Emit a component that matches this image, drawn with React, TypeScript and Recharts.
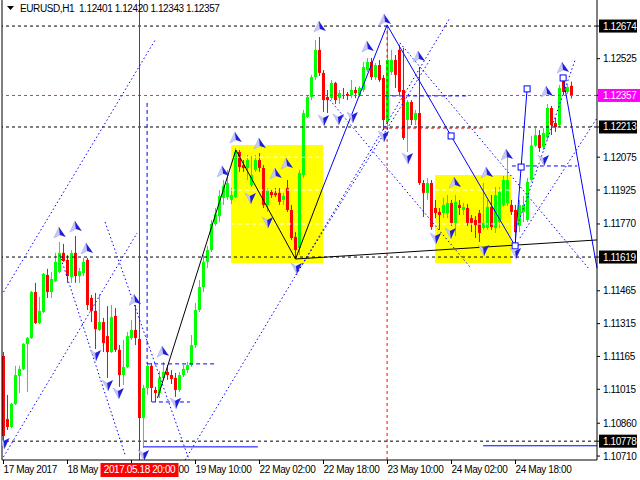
import React from 'react';
import {
  ComposedChart, Bar, Scatter, XAxis, YAxis, ReferenceLine, ReferenceArea,
} from 'recharts';

// EURUSD H1, 17 May 2017 10:00 .. 25 May 2017 08:00 (one bar per hour)
const opens = [
  1.11167, 1.10879, 1.10843, 1.10948, 1.11076, 1.11108, 1.11222, 1.11249, 1.11459, 1.11318,
  1.11368, 1.11537, 1.11459, 1.11510, 1.11551, 1.11638, 1.11606, 1.11528, 1.11638, 1.11532,
  1.11546, 1.11606, 1.11432, 1.11373, 1.11286, 1.11322, 1.11258, 1.11185, 1.11350, 1.11195,
  1.11080, 1.11117, 1.11249, 1.11286, 1.11245, 1.10884, 1.11021, 1.11122, 1.11012, 1.10998,
  1.11067, 1.11094, 1.11080, 1.11067, 1.11012, 1.11080, 1.11103, 1.11126, 1.11217, 1.11377,
  1.11482, 1.11597, 1.11651, 1.11770, 1.11806, 1.11889, 1.11893, 1.11880, 1.11893, 1.12099,
  1.12039, 1.12026, 1.11948, 1.12017, 1.12062, 1.12026, 1.11857, 1.11916, 1.11912, 1.11912,
  1.11880, 1.11934, 1.11834, 1.11711, 1.11660, 1.11994, 1.12259, 1.12350, 1.12441, 1.12565,
  1.12460, 1.12350, 1.12345, 1.12414, 1.12345, 1.12359, 1.12364, 1.12359, 1.12382, 1.12359,
  1.12382, 1.12473, 1.12510, 1.12441, 1.12496, 1.12437, 1.12236, 1.12464, 1.12519, 1.12565,
  1.12382, 1.12245, 1.12327, 1.12245, 1.12277, 1.11957, 1.11912, 1.11957, 1.11843, 1.11825,
  1.11820, 1.11820, 1.11866, 1.11775, 1.11857, 1.11834, 1.11843, 1.11797, 1.11788, 1.11820,
  1.11752, 1.11752, 1.11848, 1.11752, 1.11779, 1.11857, 1.11866, 1.11857, 1.11834, 1.11761,
  1.11825, 1.11788, 1.11971, 1.12128, 1.12176, 1.12122, 1.12167, 1.12300, 1.12231, 1.12222,
  1.12428, 1.12373, 1.12401,
];
const highs = [
  1.11185, 1.10989, 1.10953, 1.11122, 1.11122, 1.11226, 1.11254, 1.11464, 1.11501, 1.11437,
  1.11546, 1.11565, 1.11551, 1.11638, 1.11688, 1.11679, 1.11628, 1.11651, 1.11715, 1.11569,
  1.11615, 1.11615, 1.11446, 1.11455, 1.11450, 1.11341, 1.11395, 1.11400, 1.11386, 1.11217,
  1.11240, 1.11277, 1.11332, 1.11400, 1.11332, 1.11035, 1.11140, 1.11135, 1.11026, 1.11099,
  1.11140, 1.11126, 1.11103, 1.11090, 1.11094, 1.11126, 1.11140, 1.11263, 1.11409, 1.11514,
  1.11628, 1.11670, 1.11788, 1.11843, 1.11925, 1.11971, 1.12017, 1.11934, 1.12117, 1.12108,
  1.12062, 1.12085, 1.12081, 1.12085, 1.12094, 1.12039, 1.11934, 1.11925, 1.11934, 1.11934,
  1.11912, 1.11971, 1.11857, 1.11733, 1.12017, 1.12291, 1.12359, 1.12451, 1.12610, 1.12624,
  1.12473, 1.12382, 1.12428, 1.12419, 1.12382, 1.12391, 1.12373, 1.12428, 1.12396, 1.12400,
  1.12510, 1.12528, 1.12528, 1.12505, 1.12519, 1.12451, 1.12679, 1.12565, 1.12542, 1.12588,
  1.12574, 1.12336, 1.12336, 1.12291, 1.12487, 1.11971, 1.11980, 1.11971, 1.11880, 1.11843,
  1.11889, 1.11902, 1.11880, 1.11902, 1.11880, 1.11866, 1.11861, 1.11811, 1.11806, 1.11834,
  1.11957, 1.11880, 1.11902, 1.11939, 1.11939, 1.11989, 1.12081, 1.11880, 1.11857, 1.11880,
  1.11898, 1.11980, 1.12172, 1.12208, 1.12199, 1.12208, 1.12318, 1.12309, 1.12254, 1.12405,
  1.12441, 1.12409, 1.12420,
];
const lows = [
  1.10774, 1.10829, 1.10838, 1.10943, 1.10998, 1.11103, 1.11003, 1.11245, 1.11313, 1.11313,
  1.11364, 1.11432, 1.11432, 1.11505, 1.11546, 1.11597, 1.11501, 1.11501, 1.11501, 1.11501,
  1.11532, 1.11377, 1.11322, 1.11199, 1.11281, 1.11185, 1.11067, 1.11181, 1.11185, 1.11026,
  1.11035, 1.11112, 1.11240, 1.11217, 1.10875, 1.10747, 1.10989, 1.10957, 1.10957, 1.10975,
  1.11058, 1.11058, 1.11039, 1.10980, 1.11003, 1.11071, 1.11090, 1.11117, 1.11204, 1.11368,
  1.11459, 1.11569, 1.11642, 1.11761, 1.11779, 1.11857, 1.11880, 1.11861, 1.11889, 1.12008,
  1.12008, 1.11971, 1.11939, 1.12008, 1.12008, 1.11843, 1.11825, 1.11889, 1.11893, 1.11857,
  1.11857, 1.11825, 1.11697, 1.11615, 1.11628, 1.11980, 1.12254, 1.12336, 1.12428, 1.12446,
  1.12282, 1.12277, 1.12336, 1.12318, 1.12318, 1.12341, 1.12336, 1.12345, 1.12345, 1.12350,
  1.12373, 1.12464, 1.12428, 1.12428, 1.12419, 1.12199, 1.12199, 1.12451, 1.12391, 1.12359,
  1.12154, 1.12099, 1.12222, 1.12222, 1.11948, 1.11802, 1.11880, 1.11743, 1.11797, 1.11743,
  1.11797, 1.11797, 1.11761, 1.11715, 1.11811, 1.11811, 1.11761, 1.11733, 1.11706, 1.11688,
  1.11743, 1.11743, 1.11743, 1.11729, 1.11752, 1.11848, 1.11852, 1.11811, 1.11670, 1.11733,
  1.11779, 1.11779, 1.11962, 1.12122, 1.12099, 1.12108, 1.12154, 1.12176, 1.12190, 1.12213,
  1.12359, 1.12364, 1.12343,
];
const closes = [
  1.10802, 1.10843, 1.10948, 1.11080, 1.11108, 1.11222, 1.11249, 1.11459, 1.11318, 1.11373,
  1.11542, 1.11459, 1.11519, 1.11597, 1.11638, 1.11601, 1.11532, 1.11638, 1.11532, 1.11555,
  1.11597, 1.11400, 1.11373, 1.11290, 1.11322, 1.11226, 1.11185, 1.11345, 1.11195, 1.11080,
  1.11117, 1.11258, 1.11286, 1.11249, 1.10884, 1.11021, 1.11122, 1.11021, 1.10998, 1.11067,
  1.11094, 1.11080, 1.11062, 1.11012, 1.11080, 1.11108, 1.11126, 1.11217, 1.11377, 1.11482,
  1.11597, 1.11651, 1.11770, 1.11815, 1.11898, 1.11944, 1.11957, 1.11902, 1.12099, 1.12030,
  1.12026, 1.12062, 1.11994, 1.12062, 1.12026, 1.11857, 1.11925, 1.11902, 1.11902, 1.11871,
  1.11898, 1.11834, 1.11706, 1.11651, 1.12003, 1.12277, 1.12350, 1.12441, 1.12565, 1.12460,
  1.12336, 1.12336, 1.12414, 1.12336, 1.12368, 1.12355, 1.12355, 1.12382, 1.12368, 1.12391,
  1.12487, 1.12510, 1.12441, 1.12496, 1.12428, 1.12245, 1.12519, 1.12519, 1.12451, 1.12373,
  1.12163, 1.12327, 1.12245, 1.12277, 1.11957, 1.11912, 1.11957, 1.11756, 1.11820, 1.11811,
  1.11857, 1.11866, 1.11775, 1.11871, 1.11843, 1.11848, 1.11775, 1.11775, 1.11765, 1.11729,
  1.11775, 1.11848, 1.11756, 1.11902, 1.11916, 1.11971, 1.11971, 1.11825, 1.11733, 1.11857,
  1.11857, 1.11962, 1.12128, 1.12176, 1.12117, 1.12186, 1.12300, 1.12222, 1.12213, 1.12391,
  1.12373, 1.12396, 1.12357,
];

const timeTickIdx = [0, 16, 32, 48, 64, 80, 96, 112, 128];
// the part of each label left visible next to the red cursor label
const timeTickLabels = [
  '17 May 2017', '18 May', '00', '19 May 10:00', '22 May 02:00',
  '22 May 18:00', '23 May 10:00', '24 May 02:00', '24 May 18:00',
];
const cursorIdx = 34;
const cursorLabel = '2017.05.18 20:00';

const priceTicks = [
  1.12674, 1.12525, 1.12357, 1.12213, 1.12075, 1.11925, 1.1177, 1.11619,
  1.11465, 1.11315, 1.11165, 1.11015, 1.1086, 1.10778, 1.1071,
];
const levelPrices = [1.12674, 1.12213, 1.11619, 1.10778];
const bidPrice = 1.12357;
const header = 'EURUSD,H1  1.12401 1.12420 1.12343 1.12357';

// fractal marks: [bar index, price]
const upMarks = [
  [14.1, 1.11729], [18.1, 1.11756], [20.9, 1.11656], [32.9, 1.11422], [39.9, 1.11185],
  [54.9, 1.12008], [58.1, 1.12163], [64.1, 1.12135], [68.1, 1.11998], [70.9, 1.12044],
  [79.1, 1.1267], [91.1, 1.12578], [95.4, 1.12702], [103.9, 1.12533], [112.9, 1.11957],
  [120.9, 1.12003], [125.9, 1.12085], [135.9, 1.12373], [139.9, 1.12482],
];
const downMarks = [
  [0, 1.1077], [22.9, 1.11172], [25.9, 1.11035], [28.6, 1.10998], [34.9, 1.10715],
  [42.9, 1.10953], [61.6, 1.11889], [65.9, 1.11779], [73.1, 1.11569], [79.9, 1.12245],
  [83.6, 1.1225], [87.1, 1.12259], [94.9, 1.12172], [100.9, 1.12071], [107.9, 1.11706],
  [111.6, 1.11729], [119.9, 1.11651], [127.9, 1.11638], [134.9, 1.12062],
];
const zigzagNodes = [
  [111.9, 1.12172], [127.9, 1.1167], [129.4, 1.1203], [130.9, 1.12387], [139.9, 1.12437],
];

// drawn objects: [x1, price1, x2, price2]
const blackSolid = [
  [38.5, 1.10975, 58.1, 1.12108],
  [58.1, 1.12108, 73, 1.1161],
  [73, 1.1161, 79.6, 1.11925],
  [73, 1.1161, 148.375, 1.11697],
];
const blueSolid = [
  [79.6, 1.11925, 95.9, 1.12679],
  [95.9, 1.12679, 111.9, 1.12172],
  [111.9, 1.12172, 127.9, 1.1167],
  [127.9, 1.1167, 129.4, 1.1203],
  [129.4, 1.1203, 130.9, 1.12387],
  [139.9, 1.12437, 148.375, 1.11569],
  [35, 1.10752, 63.6, 1.10752],
  [119.9, 1.10757, 148.375, 1.10757],
];
const blueDotted = [
  [0, 1.11459, 37.9, 1.1261],
  [0, 1.10706, 33.4, 1.11729],
  [45.4, 1.10692, 111.6, 1.12711],
  [73.1, 1.11537, 106.6, 1.12519],
  [127.9, 1.11733, 142.9, 1.12519],
  [129.1, 1.11706, 148.375, 1.12254],
  [14.1, 1.11628, 30.4, 1.10715],
  [25.4, 1.11779, 46.4, 1.10692],
  [81.6, 1.12336, 116.6, 1.11574],
  [99.1, 1.12597, 146.6, 1.1156],
];
const blueDashed = [
  [35.9, 1.12323, 35.9, 1.11131],
  [35.9, 1.11131, 52.9, 1.11131],
  [37.1, 1.10957, 46.6, 1.10957],
  [95.4, 1.12355, 115.9, 1.12355],
  [127.1, 1.12035, 143.4, 1.12035],
];
const redDashed = [
  [95.9, 1.12679, 95.9, 1.10692],
  [94.9, 1.12208, 119.6, 1.12208],
];
// rectangles: [x1, x2, priceTop, priceBottom]
const yellowBoxes = [
  [56.9, 79.9, 1.12131, 1.11592],
  [107.9, 126.9, 1.11994, 1.11592],
];
// white dashed levels inside rectangles: [x1, x2, price]
const boxLevels = [
  [56.9, 79.9, 1.12075], [56.9, 79.9, 1.11925], [56.9, 79.9, 1.1177],
  [107.9, 126.9, 1.11925], [107.9, 126.9, 1.1177],
];

const candles = opens.map((o, i) => ({ i, o, h: highs[i], l: lows[i], c: closes[i] }));
const toPts = (arr: number[][]) => arr.map(([i, p]) => ({ i, p }));

const FONT = '"Liberation Sans", Arial, sans-serif';

const Candle = (props: any) => {
  const { x, y, width, height, payload } = props;
  if (!payload) return null;
  const { o, h, l, c } = payload;
  const cx = x + width / 2;
  const top = Math.min(y, y + height);
  const span = Math.abs(height);
  const py = (v: number) => top + ((h - v) / (h - l || 1)) * span;
  const color = c >= o ? '#00ff00' : '#ff0000';
  const bTop = py(Math.max(o, c));
  const bBot = py(Math.min(o, c));
  return (
    <g>
      <line x1={cx} x2={cx} y1={top} y2={top + span} stroke={color} strokeWidth={1} />
      <rect x={cx - 1.5} y={bTop} width={3} height={Math.max(1, bBot - bTop)} fill={color} />
    </g>
  );
};

const UpMark = (props: any) => {
  const { cx, cy } = props;
  return (
    <g transform={`translate(${cx},${cy})`}>
      <path d="M-1,-6 L-6,5 L0,2 Z" fill="#c8c8f4" stroke="#a0a0f0" strokeWidth={0.5} />
      <path d="M-1,-6 L6,4 L0,2 Z" fill="#2020d8" />
    </g>
  );
};

const DownMark = (props: any) => {
  const { cx, cy } = props;
  return (
    <g transform={`translate(${cx},${cy})`}>
      <path d="M1,6 L-5,-5 L0,-2 Z" fill="#c8c8f4" stroke="#a0a0f0" strokeWidth={0.5} />
      <path d="M1,6 L6,-5 L0,-2 Z" fill="#2020d8" />
    </g>
  );
};

const NodeMark = (props: any) => {
  const { cx, cy } = props;
  return <rect x={cx - 3} y={cy - 3} width={6} height={6} fill="#fff" stroke="#0000ff" strokeWidth={1} />;
};

const PriceTick = (props: any) => {
  const { x, y, payload } = props;
  const v = payload.value;
  const boxed = levelPrices.includes(v);
  const bid = v === bidPrice;
  return (
    <g>
      <line x1={x - 6} x2={x - 3} y1={y} y2={y} stroke="#000" />
      {bid && <rect x={x - 5} y={y - 6.5} width={43} height={13} fill="#ff00ff" />}
      {boxed && <rect x={x - 4} y={y - 6.5} width={38} height={13} fill="#000" />}
      <text x={x} y={y + 3.5} fill={bid || boxed ? '#fff' : '#000'} fontSize={10}
        fontFamily={FONT} letterSpacing={-0.4}>
        {v.toFixed(5)}
      </text>
    </g>
  );
};

const TimeTick = (props: any) => {
  const { x, y, payload } = props;
  if (payload.value === cursorIdx) {
    return (
      <g>
        <rect x={x - 39} y={y - 1} width={78} height={14} fill="#ff0000" />
        <text x={x} y={y + 9} textAnchor="middle" fill="#fff" fontSize={10}
          fontFamily={FONT} letterSpacing={-0.4}>{cursorLabel}</text>
      </g>
    );
  }
  const k = timeTickIdx.indexOf(payload.value);
  // label hidden under the cursor box except for its tail
  const tx = payload.value === 32 ? x + 47 : x;
  return (
    <g>
      <line x1={x} x2={x} y1={y - 4} y2={y} stroke="#000" />
      <text x={tx} y={y + 9} fill="#000" fontSize={10} fontFamily={FONT} letterSpacing={-0.4}>
        {timeTickLabels[k]}
      </text>
    </g>
  );
};

const seg = (s: number[]) => [{ x: s[0], y: s[1] }, { x: s[2], y: s[3] }];

export default function App() {
  return (
    <div style={{ position: 'absolute', left: 0, top: 0, width: 640, height: 480, background: '#fff' }}>
      <ComposedChart width={640} height={480} data={candles}
        margin={{ top: 0, right: 0, left: 2, bottom: 0 }}>
        <XAxis type="number" dataKey="i" domain={[-0.375, 148.375]} allowDataOverflow
          ticks={[...timeTickIdx.slice(0, 3), cursorIdx, ...timeTickIdx.slice(3)]}
          interval={0} tick={<TimeTick />} tickSize={4} tickMargin={0} tickLine={false}
          axisLine={{ stroke: '#000' }} height={20} />
        <YAxis type="number" orientation="right" domain={[1.10692, 1.12793]} allowDataOverflow
          ticks={priceTicks} interval={0} tick={<PriceTick />} tickSize={3} tickMargin={3}
          tickLine={false} axisLine={{ stroke: '#000' }} width={43} />

        {yellowBoxes.map((b, k) => (
          <ReferenceArea key={`yb${k}`} x1={b[0]} x2={b[1]} y1={b[3]} y2={b[2]}
            fill="#ffff00" fillOpacity={1} stroke="none" ifOverflow="visible" />
        ))}
        {boxLevels.map((b, k) => (
          <ReferenceLine key={`bl${k}`} segment={[{ x: b[0], y: b[2] }, { x: b[1], y: b[2] }]}
            stroke="#fff" strokeDasharray="4 3" ifOverflow="visible" />
        ))}

        <ReferenceLine x={-0.375} stroke="#000" ifOverflow="visible" />
        {levelPrices.map((p) => (
          <ReferenceLine key={`lv${p}`} y={p} stroke="#000" strokeDasharray="3 3" ifOverflow="visible" />
        ))}
        <ReferenceLine y={bidPrice} stroke="#ff00ff" strokeDasharray="3 3" ifOverflow="visible" />
        <ReferenceLine x={cursorIdx} stroke="#ff0000" ifOverflow="visible" />

        <Bar dataKey={(d: any) => [d.l, d.h]} shape={<Candle />} barSize={3} isAnimationActive={false} />

        {redDashed.map((s, k) => (
          <ReferenceLine key={`rd${k}`} segment={seg(s)} stroke="#ff0000" strokeDasharray="3 3" ifOverflow="visible" />
        ))}
        {blueDotted.map((s, k) => (
          <ReferenceLine key={`bd${k}`} segment={seg(s)} stroke="#0000ff" strokeDasharray="1.5 2.5" ifOverflow="visible" />
        ))}
        {blueDashed.map((s, k) => (
          <ReferenceLine key={`bs${k}`} segment={seg(s)} stroke="#0000ff" strokeDasharray="4 3" ifOverflow="visible" />
        ))}
        {blackSolid.map((s, k) => (
          <ReferenceLine key={`k${k}`} segment={seg(s)} stroke="#000" ifOverflow="visible" />
        ))}
        {blueSolid.map((s, k) => (
          <ReferenceLine key={`b${k}`} segment={seg(s)} stroke="#0000ff" ifOverflow="visible" />
        ))}

        <Scatter data={toPts(zigzagNodes)} dataKey="p" shape={NodeMark} isAnimationActive={false} />
        <Scatter data={toPts(upMarks)} dataKey="p" shape={UpMark} isAnimationActive={false} />
        <Scatter data={toPts(downMarks)} dataKey="p" shape={DownMark} isAnimationActive={false} />
      </ComposedChart>
      <div style={{ position: 'absolute', left: 7, top: 3, display: 'flex', alignItems: 'center',
        fontFamily: FONT, fontSize: 10, letterSpacing: -0.4, color: '#000', whiteSpace: 'pre' }}>
        <svg width={8} height={6} style={{ marginRight: 5 }}>
          <path d="M0,0 L7,0 L3.5,4 Z" fill="#000" />
        </svg>
        {header}
      </div>
    </div>
  );
}
